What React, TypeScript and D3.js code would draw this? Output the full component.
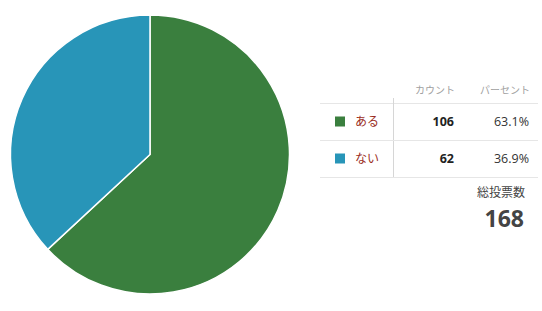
import React from "react";
import * as d3 from "d3";

const categories = ["ある", "ない"];
const counts = [106, 62];
const percents = ["63.1%", "36.9%"];
const colors = ["#3a7f3e", "#2895b8"];
const headers = ["カウント", "パーセント"];
const totalLabel = "総投票数";

export default function App() {
  const W = 542, H = 311;
  const cx = 150, cy = 154.5, r = 139.5;
  const total = d3.sum(counts);
  const pie = d3.pie<number>().sort(null).value((d) => d);
  const arcs = pie(counts);
  const arcGen = d3.arc<d3.PieArcDatum<number>>().innerRadius(0).outerRadius(r);
  const font = "'Open Sans', 'Noto Sans CJK JP', sans-serif";
  const rowY = d3.scaleBand<string>().domain(categories).range([103, 177]);
  return (
    <svg width={W} height={H} style={{ position: "absolute", left: 0, top: 0 }} fontFamily={font}>
      <rect width={W} height={H} fill="#fff" />
      <g transform={`translate(${cx},${cy})`}>
        {arcs.map((a, i) => (
          <path key={i} d={arcGen(a) || ""} fill={colors[i]} stroke="#fff" strokeWidth={1.5} />
        ))}
      </g>
      <text x={455} y={94} textAnchor="end" fontSize={10} fill="#a0a0a0">{headers[0]}</text>
      <text x={530} y={94} textAnchor="end" fontSize={10} fill="#a0a0a0">{headers[1]}</text>
      <line x1={320} x2={538} y1={103.5} y2={103.5} stroke="#e6e6e6" />
      <line x1={393.5} x2={393.5} y1={98} y2={177} stroke="#d6d6d6" />
      {categories.map((c, i) => {
        const y0 = rowY(c)!;
        const mid = y0 + rowY.bandwidth() / 2;
        return (
          <g key={c}>
            <rect x={335} y={mid - 5} width={10} height={10} fill={colors[i]} />
            <text x={355} y={mid + 4.5} fontSize={12} fill="#9b2d22">{c}</text>
            <text x={454} y={mid + 4.5} fontSize={12.5} fontWeight="bold" textAnchor="end" fill="#222">{counts[i]}</text>
            <text x={529} y={mid + 4.5} fontSize={12.5} textAnchor="end" fill="#333">{percents[i]}</text>
            <line x1={320} x2={538} y1={y0 + rowY.bandwidth() + 0.5} y2={y0 + rowY.bandwidth() + 0.5} stroke="#e6e6e6" />
          </g>
        );
      })}
      <text x={525} y={196.5} textAnchor="end" fontSize={12} fill="#444">{totalLabel}</text>
      <text x={524} y={226.5} textAnchor="end" fontSize={23} fontWeight="bold" fill="#444">{total}</text>
    </svg>
  );
}
